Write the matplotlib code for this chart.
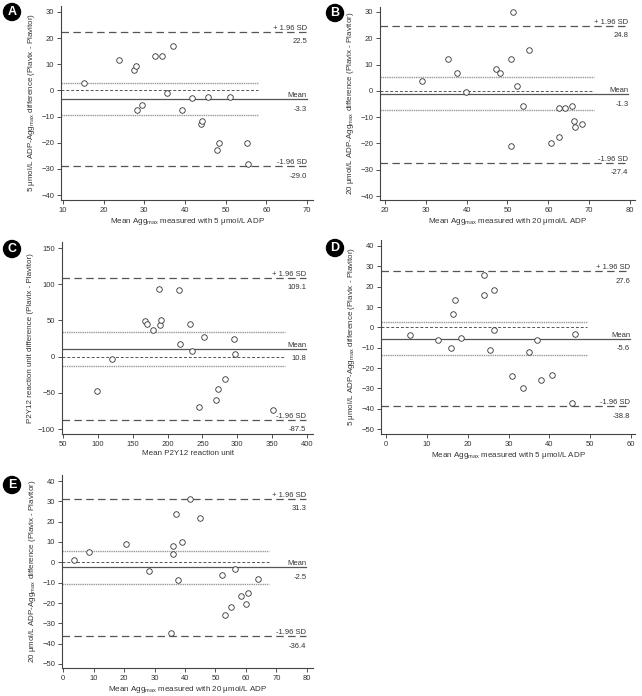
import matplotlib
matplotlib.use("Agg")
import matplotlib.pyplot as plt

plt.rcParams["font.family"] = ["Liberation Sans", "DejaVu Sans"]
plt.rcParams["mathtext.fontset"] = "custom"
plt.rcParams["mathtext.rm"] = "Liberation Sans"

W, H = 642, 696
TXT = "#333333"
LINE = "#555555"

# ---- data (mean, difference) per panel ----
a_x = [15.1, 23.8, 27.5, 28.0, 28.2, 29.5, 32.5, 34.3, 37.1, 35.5,
       39.3, 41.6, 45.7, 51.1, 43.9, 44.2, 47.8, 48.4, 55.3, 55.6]
a_y = [2.9, 11.7, 8.0, 9.2, -7.4, -5.5, 13.2, 13.2, 17.1, -1.0,
       -7.4, -2.8, -2.7, -2.7, -12.7, -11.8, -22.7, -20.1, -20.1, -28.0]

b_x = [29.0, 35.5, 37.7, 39.8, 47.3, 48.2, 50.9, 51.4, 52.4, 55.2,
       50.9, 53.8, 60.7, 62.5, 62.6, 64.1, 65.8, 66.3, 66.6, 68.3]
b_y = [3.6, 12.1, 6.7, -0.3, 8.3, 6.7, 12.3, 29.9, 2.0, 15.6,
       -21.1, -5.7, -19.9, -17.5, -6.6, -6.5, -5.7, -11.6, -13.6, -12.7]

c_x = [98.8, 120.8, 167.6, 170.5, 179.6, 188.2, 189.7, 191.1, 216.4, 217.4,
       232.7, 234.6, 252.7, 245.1, 269.5, 272.8, 282.4, 295.8, 297.2, 351.2]
c_y = [-47.8, -2.8, 49.6, 45.0, 36.3, 92.8, 43.7, 50.1, 91.9, 17.9,
       44.6, 7.4, 26.7, -69.9, -59.3, -44.6, -31.3, 24.4, 4.1, -74.4]

d_x = [5.8, 12.7, 15.8, 16.4, 16.8, 18.4, 23.9, 23.9, 25.4, 26.4,
       26.4, 30.9, 33.6, 35.0, 36.9, 37.9, 40.6, 45.5, 46.4]
d_y = [-4.0, -6.3, -10.2, 6.6, 13.6, -5.3, 25.9, 15.9, -11.2, 18.5,
       -1.2, -24.1, -29.8, -12.2, -6.3, -26.1, -23.2, -37.4, -3.2]

e_x = [3.5, 8.5, 20.6, 28.1, 36.0, 36.2, 37.1, 37.6, 39.1, 35.5,
       41.6, 45.0, 52.2, 53.2, 55.0, 56.5, 58.4, 60.1, 60.6, 64.0]
e_y = [1.0, 5.0, 8.9, -4.2, 4.0, 7.9, 23.9, -8.9, 9.9, -34.8,
       31.0, 22.0, -6.3, -26.0, -22.0, -3.2, -16.8, -20.3, -15.2, -8.0]

# limits of agreement: (+1.96 SD, mean, -1.96 SD) and 95% CI of mean
loa = {"A": (22.5, -3.3, -29.0), "B": (24.8, -1.3, -27.4), "C": (109.1, 10.8, -87.5),
       "D": (27.6, -5.6, -38.8), "E": (31.3, -2.5, -36.4)}
ci = {"A": (2.9, -9.3), "B": (5.2, -7.4), "C": (33.5, -13.3),
      "D": (2.5, -13.7), "E": (5.5, -10.9)}

xticks = {"A": range(10, 71, 10), "B": range(20, 81, 10), "C": range(50, 401, 50),
          "D": range(0, 61, 10), "E": range(0, 81, 10)}
yticks = {"A": range(-40, 31, 10), "B": range(-40, 31, 10), "C": range(-100, 151, 50),
          "D": range(-50, 41, 10), "E": range(-50, 41, 10)}

MX = r"Agg$_{\mathregular{max}}$"
xlabels = {"A": f"Mean {MX} measured with 5 μmol/L ADP",
           "B": f"Mean {MX} measured with 20 μmol/L ADP",
           "C": "Mean P2Y12 reaction unit",
           "D": f"Mean {MX} measured with 5 μmol/L ADP",
           "E": f"Mean {MX} measured with 20 μmol/L ADP"}
ylabels = {"A": f"5 μmol/L ADP-{MX} difference (Plavix - Plavitor)",
           "B": f"20 μmol/L ADP-{MX} difference (Plavix - Plavitor)",
           "C": "P2Y12 reaction unit difference (Plavix - Plavitor)",
           "D": f"5 μmol/L ADP-{MX} difference (Plavix - Plavitor)",
           "E": f"20 μmol/L ADP-{MX} difference (Plavix - Plavitor)"}

points = {"A": (a_x, a_y), "B": (b_x, b_y), "C": (c_x, c_y), "D": (d_x, d_y), "E": (e_x, e_y)}

# ---- layout in pixels: tick calibration and axes box ----
# (x0, x1, px0, px1), (y0, y1, py0, py1), box (left, right, top, bottom)
geom = {
    "A": ((10, 70, 63, 307), (30, -40, 12, 195), (61, 313, 6, 200)),
    "B": ((20, 80, 385, 630), (30, -40, 12, 196), (380, 635, 7, 200)),
    "C": ((50, 400, 63, 307), (150, -100, 248, 429), (62, 313, 242, 434)),
    "D": ((0, 60, 386, 631), (40, -50, 246, 429), (381, 635, 240, 434)),
    "E": ((0, 80, 63, 307), (40, -50, 481, 664), (62, 313, 475, 668)),
}
# right end of the zero line / CI lines (data units)
short_end = {"A": 58, "B": 71.3, "C": 368, "D": 49.2, "E": 67.6}
long_end = {"A": 70, "B": 79.6, "C": 399, "D": 59.8, "E": 79.8}
badge = {"A": (12, 12), "B": (335, 13), "C": (12, 249), "D": (335, 248), "E": (12, 485)}


def inv(v0, v1, p0, p1, p):
    return v0 + (p - p0) * (v1 - v0) / (p1 - p0)


fig = plt.figure(figsize=(W / 100, H / 100), dpi=100)

for key in "ABCDE":
    (x0, x1, px0, px1), (y0, y1, py0, py1), (L, R, T, B) = geom[key]
    ax = fig.add_axes([L / W, 1 - B / H, (R - L) / W, (B - T) / H])
    ax.set_xlim(inv(x0, x1, px0, px1, L), inv(x0, x1, px0, px1, R))
    ax.set_ylim(inv(y0, y1, py0, py1, B), inv(y0, y1, py0, py1, T))
    xl = ax.get_xlim()[0]

    up, mean, lo = loa[key]
    ci_hi, ci_lo = ci[key]
    ax.plot([xl, long_end[key]], [up, up], color=LINE, lw=0.9, dashes=(6, 3.5))
    ax.plot([xl, long_end[key]], [lo, lo], color=LINE, lw=0.9, dashes=(6, 3.5))
    ax.plot([xl, long_end[key]], [mean, mean], color=LINE, lw=0.9)
    ax.plot([xl, short_end[key]], [0, 0], color=LINE, lw=0.7, dashes=(3, 2))
    for v in (ci_hi, ci_lo):
        ax.plot([xl, short_end[key]], [v, v], color="#999999", lw=1.0, dashes=(1, 0.6))

    px, py = points[key]
    ax.plot(px, py, "o", ms=4, mfc="white", mec="#333333", mew=0.6, ls="none")

    xr = long_end[key]
    ax.text(xr, up, "+ 1.96 SD", ha="right", va="bottom", fontsize=5.5, color=TXT)
    ax.text(xr, up, f"\n{up:.1f}", ha="right", va="top", fontsize=5.5, color=TXT, linespacing=0.9)
    ax.text(xr, mean, "Mean", ha="right", va="bottom", fontsize=5.5, color=TXT)
    ax.text(xr, mean, f"\n{mean:.1f}", ha="right", va="top", fontsize=5.5, color=TXT, linespacing=0.9)
    ax.text(xr, lo, "-1.96 SD", ha="right", va="bottom", fontsize=5.5, color=TXT)
    ax.text(xr, lo, f"\n{lo:.1f}", ha="right", va="top", fontsize=5.5, color=TXT, linespacing=0.9)

    ax.set_xticks(list(xticks[key]))
    ax.set_yticks(list(yticks[key]))
    ax.tick_params(labelsize=5.5, colors=TXT, length=3, width=0.6, pad=2)
    for s in ("top", "right"):
        ax.spines[s].set_visible(False)
    for s in ("left", "bottom"):
        ax.spines[s].set_color("#444444")
        ax.spines[s].set_linewidth(0.8)
    ax.set_xlabel(xlabels[key], fontsize=5.8, color=TXT, labelpad=1.5)
    ax.set_ylabel(ylabels[key], fontsize=5.8, color=TXT, labelpad=3)

    bx, by = badge[key]
    fig.text(bx / W, 1 - by / H, key, ha="center", va="center", fontsize=9,
             fontweight="bold", color="white",
             bbox=dict(boxstyle="circle,pad=0.2", fc="black", ec="black"))

fig.savefig("out.png", dpi=100)
